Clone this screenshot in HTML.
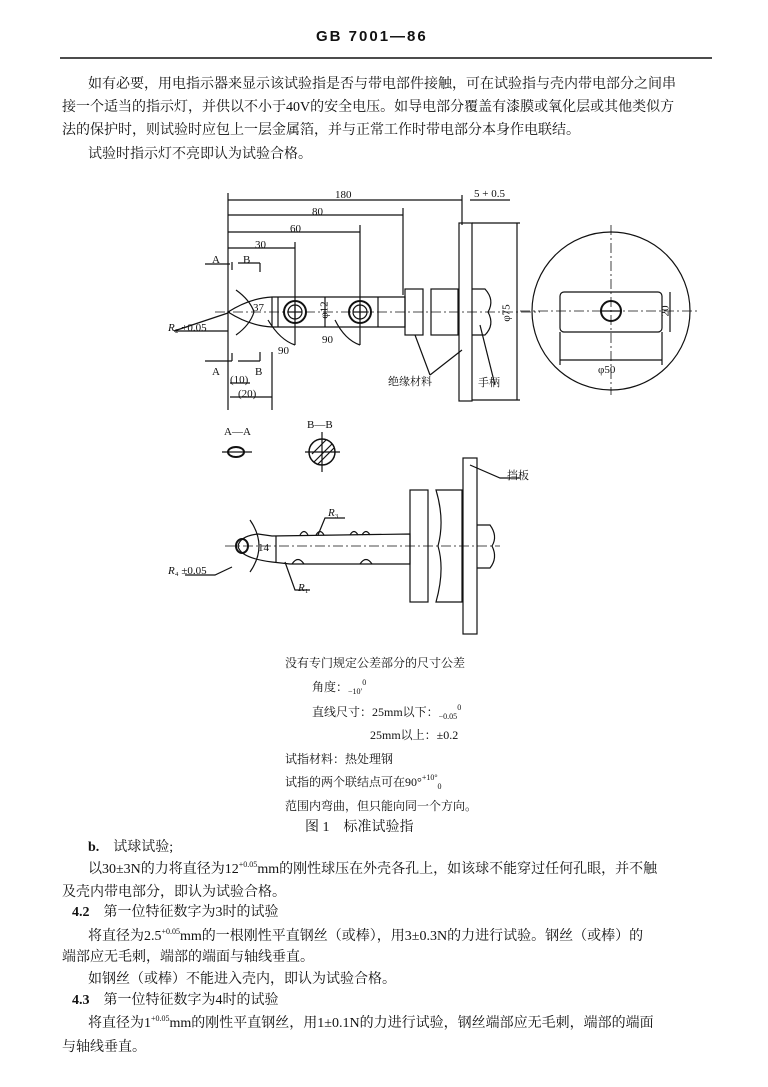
<!DOCTYPE html>
<html><head><meta charset="utf-8"><style>
body{margin:0;background:#fff;}
#p{position:relative;width:768px;height:1087px;overflow:hidden;background:#fff;font-family:"Liberation Serif","Noto Serif CJK SC","Noto Sans CJK SC",serif;color:#111;}
.t{position:absolute;font-size:14px;white-space:nowrap;line-height:16px;}
.s{font-size:11px;}
sup,sub{font-size:8px;vertical-align:0;position:relative;line-height:0;}
sup{top:-6px;}
sub{top:3px;}
svg{position:absolute;left:0;top:0;}
</style></head><body><div id="p">
<svg width="768" height="1087" viewBox="0 0 768 1087" fill="none" stroke="#111" stroke-width="1.2" font-family="Liberation Sans, Noto Sans CJK SC, sans-serif">
<line x1="60" y1="58" x2="712" y2="58" stroke-width="1.5"/>
<line x1="228" y1="193" x2="228" y2="410"/>
<line x1="228" y1="200" x2="462" y2="200"/><line x1="462" y1="195" x2="462" y2="225"/>
<line x1="470" y1="200" x2="510" y2="200"/>
<line x1="228" y1="215" x2="403" y2="215"/><line x1="403" y1="208" x2="403" y2="295"/>
<line x1="228" y1="232" x2="360" y2="232"/><line x1="360" y1="225" x2="360" y2="345"/>
<line x1="228" y1="248" x2="295" y2="248"/><line x1="295" y1="242" x2="295" y2="345"/>
<line x1="205" y1="264" x2="230" y2="264"/><line x1="232" y1="262" x2="232" y2="270"/>
<line x1="238" y1="263" x2="260" y2="263"/><line x1="260" y1="263" x2="260" y2="272"/>
<line x1="205" y1="361" x2="232" y2="361"/><line x1="232" y1="353" x2="232" y2="361"/>
<line x1="238" y1="361" x2="260" y2="361"/><line x1="260" y1="352" x2="260" y2="361"/>
<line x1="272" y1="352" x2="272" y2="410"/>
<line x1="230" y1="383" x2="250" y2="383"/><line x1="230" y1="397" x2="272" y2="397"/>
<path d="M228 312 Q250 298 272 297 L405 297 L405 327 L272 327 Q250 326 228 312Z"/>
<line x1="272" y1="297" x2="272" y2="327"/><line x1="278" y1="297" x2="278" y2="327"/>
<line x1="325" y1="297" x2="325" y2="327"/><line x1="378" y1="297" x2="378" y2="327"/>
<circle cx="295" cy="312" r="11" stroke-width="2"/><circle cx="295" cy="312" r="7"/>
<line x1="288" y1="312" x2="302" y2="312"/><line x1="295" y1="305" x2="295" y2="319"/>
<circle cx="360" cy="312" r="11" stroke-width="2"/><circle cx="360" cy="312" r="7"/>
<line x1="353" y1="312" x2="367" y2="312"/><line x1="360" y1="305" x2="360" y2="319"/>
<path d="M236 290 Q250 300 254 312 Q250 325 236 335"/>
<path d="M268 320 Q280 340 295 345"/><path d="M335 320 Q345 340 360 345"/>
<line x1="215" y1="312" x2="540" y2="312" stroke-dasharray="10 3 2 3" stroke-width="0.8"/>
<rect x="405" y="289" width="18" height="46"/>
<rect x="431" y="289" width="27" height="46"/>
<rect x="459" y="223" width="13" height="178"/>
<path d="M472 289 L485 289 Q495 300 488 312 Q495 325 485 335 L472 335"/>
<line x1="472" y1="223" x2="520" y2="223"/><line x1="472" y1="400" x2="520" y2="400"/>
<line x1="517" y1="223" x2="517" y2="400"/>
<path d="M415 335 L430 375 M430 375 L462 350"/>
<path d="M480 325 L495 385"/>
<line x1="174" y1="331" x2="228" y2="331"/><line x1="174" y1="331" x2="228" y2="313"/>
<circle cx="611" cy="311" r="79"/>
<rect x="560" y="292" width="102" height="40" rx="4"/>
<circle cx="611" cy="311" r="10" stroke-width="2"/><line x1="601" y1="311" x2="621" y2="311"/>
<line x1="520" y1="311" x2="700" y2="311" stroke-dasharray="10 3 2 3" stroke-width="0.8"/>
<line x1="611" y1="225" x2="611" y2="395" stroke-dasharray="10 3 2 3" stroke-width="0.8"/>
<line x1="560" y1="360" x2="662" y2="360"/><line x1="560" y1="332" x2="560" y2="365"/><line x1="662" y1="332" x2="662" y2="365"/>
<line x1="670" y1="292" x2="670" y2="332"/>
<ellipse cx="236" cy="452" rx="8" ry="5" stroke-width="2"/><line x1="222" y1="452" x2="252" y2="452"/>
<circle cx="322" cy="452" r="13" stroke-width="1.5"/><line x1="305" y1="452" x2="340" y2="452"/><line x1="322" y1="432" x2="322" y2="472"/>
<line x1="314" y1="462" x2="332" y2="444"/><line x1="312" y1="454" x2="326" y2="440"/><line x1="318" y1="464" x2="334" y2="448"/>
<path d="M238 546 Q240 536 258 534 L272 536 L410 534 L410 564 L290 564 L272 562 Q240 558 238 546Z"/>
<line x1="276" y1="536" x2="276" y2="562"/>
<path d="M300 535 Q304 528 308 535 M316 535 Q320 528 324 535 M350 535 Q354 528 358 535 M362 535 Q366 528 370 535"/>
<path d="M292 564 Q298 555 304 564 M360 564 Q366 555 372 564"/>
<ellipse cx="242" cy="546" rx="6" ry="7" stroke-width="2"/>
<path d="M250 520 Q268 546 250 572"/>
<line x1="225" y1="546" x2="500" y2="546" stroke-dasharray="10 3 2 3" stroke-width="0.8"/>
<rect x="410" y="490" width="18" height="112"/>
<path d="M436 490 L462 490 L462 602 L436 602 Q445 570 438 546 Q445 520 436 490Z"/>
<rect x="463" y="458" width="14" height="176"/>
<path d="M477 525 L490 525 Q498 536 492 546 Q498 558 490 568 L477 568"/>
<path d="M470 465 L500 478 L520 478"/>
<path d="M232 567 L215 575 L185 575"/><path d="M285 562 L295 590 L310 590"/><path d="M318 535 L325 518 L345 518"/>
</svg>
<div class="t" style="left:316px;top:29px;font-family:'Liberation Sans',sans-serif;font-weight:bold;font-size:15px;letter-spacing:2px">GB 7001—86</div>
<div class="t" style="left:88px;top:77px">如有必要，用电指示器来显示该试验指是否与带电部件接触，可在试验指与壳内带电部分之间串</div>
<div class="t" style="left:62px;top:100px">接一个适当的指示灯，并供以不小于40V的安全电压。如导电部分覆盖有漆膜或氧化层或其他类似方</div>
<div class="t" style="left:62px;top:123px">法的保护时，则试验时应包上一层金属箔，并与正常工作时带电部分本身作电联结。</div>
<div class="t" style="left:88px;top:147px">试验时指示灯不亮即认为试验合格。</div>
<div class="t s" style="left:335px;top:187px">180</div>
<div class="t s" style="left:474px;top:186px">5 + 0.5</div>
<div class="t s" style="left:312px;top:204px">80</div>
<div class="t s" style="left:290px;top:221px">60</div>
<div class="t s" style="left:255px;top:237px">30</div>
<div class="t s" style="left:212px;top:252px">A</div><div class="t s" style="left:243px;top:252px">B</div>
<div class="t s" style="left:212px;top:364px">A</div><div class="t s" style="left:255px;top:364px">B</div>
<div class="t s" style="left:230px;top:372px">(10)</div><div class="t s" style="left:238px;top:386px">(20)</div>
<div class="t s" style="left:253px;top:300px">37</div>
<div class="t s" style="left:278px;top:343px">90</div><div class="t s" style="left:322px;top:332px">90</div>
<div class="t s" style="left:168px;top:320px"><i>R</i>₂ ±0.05</div>
<div class="t s" style="left:316px;top:302px;transform:rotate(-90deg)">φ12</div>
<div class="t s" style="left:498px;top:305px;transform:rotate(-90deg)">φ75</div>
<div class="t s" style="left:598px;top:362px">φ50</div>
<div class="t s" style="left:660px;top:303px;transform:rotate(-90deg)">20</div>
<div class="t s" style="left:388px;top:374px">绝缘材料</div>
<div class="t s" style="left:478px;top:375px">手柄</div>
<div class="t s" style="left:224px;top:424px">A—A</div>
<div class="t s" style="left:307px;top:417px">B—B</div>
<div class="t s" style="left:507px;top:468px">挡板</div>
<div class="t s" style="left:328px;top:505px"><i>R</i>₃</div>
<div class="t s" style="left:258px;top:540px">14</div>
<div class="t s" style="left:168px;top:563px"><i>R</i>₄ ±0.05</div>
<div class="t s" style="left:298px;top:580px"><i>R</i>₁</div>
<div class="t" style="left:285px;top:655px;font-size:12px">没有专门规定公差部分的尺寸公差</div>
<div class="t" style="left:312px;top:679px;font-size:12px">角度：<sub>−10′</sub><sup>0</sup></div>
<div class="t" style="left:312px;top:704px;font-size:12px">直线尺寸：25mm以下：<sub>−0.05</sub><sup>0</sup></div>
<div class="t" style="left:370px;top:727px;font-size:12px">25mm以上：±0.2</div>
<div class="t" style="left:285px;top:751px;font-size:12px">试指材料：热处理钢</div>
<div class="t" style="left:285px;top:774px;font-size:12px">试指的两个联结点可在90°<sup>+10°</sup><sub>0</sub></div>
<div class="t" style="left:285px;top:798px;font-size:12px">范围内弯曲，但只能向同一个方向。</div>
<div class="t" style="left:305px;top:820px">图 1　标准试验指</div>
<div class="t" style="left:88px;top:840px"><b>b.</b>　试球试验;</div>
<div class="t" style="left:88px;top:862px">以30±3N的力将直径为12<sup>+0.05</sup>mm的刚性球压在外壳各孔上，如该球不能穿过任何孔眼，并不触</div>
<div class="t" style="left:62px;top:885px">及壳内带电部分，即认为试验合格。</div>
<div class="t" style="left:72px;top:905px"><b>4.2</b>　第一位特征数字为3时的试验</div>
<div class="t" style="left:88px;top:929px">将直径为2.5<sup>+0.05</sup>mm的一根刚性平直钢丝（或棒），用3±0.3N的力进行试验。钢丝（或棒）的</div>
<div class="t" style="left:62px;top:950px">端部应无毛刺，端部的端面与轴线垂直。</div>
<div class="t" style="left:88px;top:972px">如钢丝（或棒）不能进入壳内，即认为试验合格。</div>
<div class="t" style="left:72px;top:993px"><b>4.3</b>　第一位特征数字为4时的试验</div>
<div class="t" style="left:88px;top:1016px">将直径为1<sup>+0.05</sup>mm的刚性平直钢丝，用1±0.1N的力进行试验，钢丝端部应无毛刺，端部的端面</div>
<div class="t" style="left:62px;top:1040px">与轴线垂直。</div>
</div></body></html>
